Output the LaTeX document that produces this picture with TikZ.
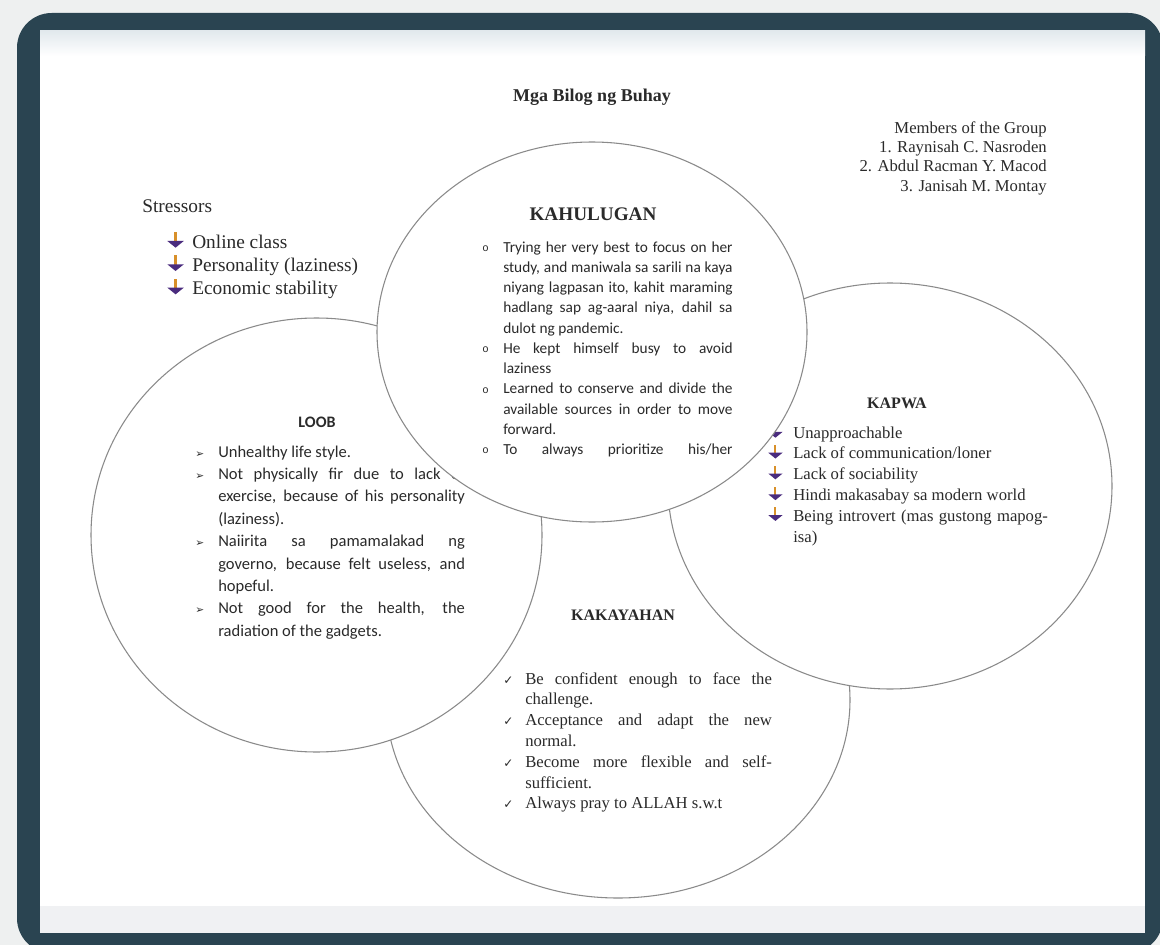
\documentclass[tikz,border=0pt]{standalone}
\usepackage{fontspec}
\setmainfont{Liberation Serif}
\newfontfamily\calib{Carlito}
\newfontfamily\dejavu{DejaVu Sans}
\newfontfamily\monof{Liberation Mono}
\definecolor{framecol}{HTML}{2A4451}
\definecolor{bgcol}{HTML}{EEF0F0}
\definecolor{bandtop}{HTML}{E2E9ED}
\definecolor{bandbot}{HTML}{F0F1F3}
\definecolor{ringcol}{HTML}{8A8A8A}
\definecolor{txtcol}{HTML}{2A2A2A}
\definecolor{iconpurple}{HTML}{4A2C7E}
\definecolor{iconorange}{HTML}{D8902A}
\newlength\myind
\newlength\myw
% first line of an item, justified / ragged
\newcommand\itJ[2]{\noindent\makebox[\myind][l]{#1}\hbox to \myw{#2}\par}
\newcommand\itR[2]{\noindent\makebox[\myind][l]{#1}#2\par}
% continuation lines, justified / ragged
\newcommand\lnJ[1]{\noindent\hspace*{\myind}\hbox to \myw{#1}\par}
\newcommand\lnR[1]{\noindent\hspace*{\myind}#1\par}
\newcommand\kbul{\raisebox{0.5pt}{\monof\fontsize{8}{8}\selectfont o}}
\newcommand\lbul{{\dejavu\fontsize{8}{8}\selectfont ➢}}
\newcommand\chk{{\dejavu\fontsize{9}{9}\selectfont ✓}}
\newcommand\arr{\tikz[x=0.085em,y=0.085em,baseline=0pt]{\fill[iconorange] (4.3,3.5) rectangle (5.8,9.8); \fill[iconpurple] (0,4.3)--(10.1,4.3)--(5.05,0.2)--cycle;}}
\begin{document}
\begin{tikzpicture}[x=0.75pt,y=-0.75pt,
  ring/.style={draw=ringcol,line width=0.8pt,fill=white},
  lbl/.style={inner sep=0pt,text=txtcol}]
\clip (0,0) rectangle (1160,945);
\fill[bgcol] (0,0) rectangle (1160,945);
\fill[framecol,rounded corners=26pt] (17,13) rectangle (1163,953);
\fill[white] (40,31) rectangle (1145,933);
\shade[top color=bandtop,bottom color=white] (40,31) rectangle (1145,56);
\fill[bandbot] (40,906) rectangle (1145,933);

% title and members
\node[lbl,font=\bfseries\fontsize{13.5}{16}\selectfont] (title) at (592,97) {Mga Bilog ng Buhay};
\node[lbl,anchor=north east,align=right,font=\fontsize{12.5}{14.5}\selectfont] (members) at (1047,121)
  {Members of the Group\\1. Raynisah C. Nasroden\\2. Abdul Racman Y. Macod\\3. Janisah M. Montay};

% stressors
\node[lbl,anchor=base west,font=\fontsize{14.5}{17}\selectfont] (stress) at (142,213) {Stressors};
\node[lbl,anchor=base west,font=\fontsize{14.5}{17.5}\selectfont] (stressitems) at (167,248)
  {\begin{minipage}[t]{180pt}\setlength\myind{18.75pt}%
   \itR{\arr}{Online class}
   \itR{\arr}{Personality (laziness)}
   \itR{\arr}{Economic stability}
   \end{minipage}};

% KAKAYAHAN (bottom)
\draw[ring] (618,700) ellipse [x radius={232*0.75pt}, y radius={198*0.75pt}];
\node[lbl,font=\bfseries\fontsize{12}{14}\selectfont] (kakl) at (623,615) {KAKAYAHAN};
\node[lbl,anchor=base west,font=\fontsize{12.5}{15.6}\selectfont] (kakitems) at (503,684)
  {\begin{minipage}[t]{210pt}\setlength\myind{16.5pt}\setlength\myw{185pt}%
   \itJ{\chk}{Be confident enough to face the}
   \lnR{challenge.}
   \itJ{\chk}{Acceptance and adapt the new}
   \lnR{normal.}
   \itJ{\chk}{Become more flexible and self-}
   \lnR{sufficient.}
   \itR{\chk}{Always pray to ALLAH s.w.t}
   \end{minipage}};

% LOOB
\draw[ring] (316.5,535) ellipse [x radius={225.5*0.75pt}, y radius={217*0.75pt}];
\node[lbl,font=\calib\bfseries\fontsize{12}{13}\selectfont] (loobl) at (317,422) {LOOB};
\node[lbl,anchor=base west,font=\calib\fontsize{12.4}{16.8}\selectfont] (loobitems) at (195,457)
  {\begin{minipage}[t]{210pt}\setlength\myind{17.25pt}\setlength\myw{185pt}%
   \itR{\lbul}{Unhealthy life style.}
   \itJ{\lbul}{Not physically fir due to lack of}
   \lnJ{exercise, because of his personality}
   \lnR{(laziness).}
   \itJ{\lbul}{Naiirita sa pamamalakad ng}
   \lnJ{governo, because felt useless, and}
   \lnR{hopeful.}
   \itJ{\lbul}{Not good for the health, the}
   \lnR{radiation of the gadgets.}
   \end{minipage}};

% KAPWA
\draw[ring] (890,486) ellipse [x radius={222*0.75pt}, y radius={203*0.75pt}];
\node[lbl,font=\bfseries\fontsize{12}{14}\selectfont] (kapl) at (897,403) {KAPWA};
\node[lbl,anchor=base west,font=\fontsize{12.5}{15.6}\selectfont] (kapitems) at (768,438)
  {\begin{minipage}[t]{215pt}\setlength\myind{18.75pt}\setlength\myw{191pt}%
   \itR{\arr}{Unapproachable}
   \itR{\arr}{Lack of communication/loner}
   \itR{\arr}{Lack of sociability}
   \itR{\arr}{Hindi makasabay sa modern world}
   \itJ{\arr}{Being introvert (mas gustong mapog-}
   \lnR{isa)}
   \end{minipage}};

% KAHULUGAN (top)
\draw[ring] (592,332) ellipse [x radius={215*0.75pt}, y radius={190*0.75pt}];
\node[lbl,font=\bfseries\fontsize{14.4}{16}\selectfont] (kahl) at (593,214) {KAHULUGAN};
\node[lbl,anchor=base west,font=\calib\fontsize{11.5}{15.2}\selectfont] (kahitems) at (482,252)
  {\begin{minipage}[t]{200pt}\setlength\myind{15.75pt}\setlength\myw{172pt}%
   \itJ{\kbul}{Trying her very best to focus on her}
   \lnJ{study, and maniwala sa sarili na kaya}
   \lnJ{niyang lagpasan ito, kahit maraming}
   \lnJ{hadlang sap ag-aaral niya, dahil sa}
   \lnR{dulot ng pandemic.}
   \itJ{\kbul}{He kept himself busy to avoid}
   \lnR{laziness}
   \itJ{\kbul}{Learned to conserve and divide the}
   \lnJ{available sources in order to move}
   \lnR{forward.}
   \itJ{\kbul}{To always prioritize his/her}
   \end{minipage}};
\end{tikzpicture}
\end{document}
